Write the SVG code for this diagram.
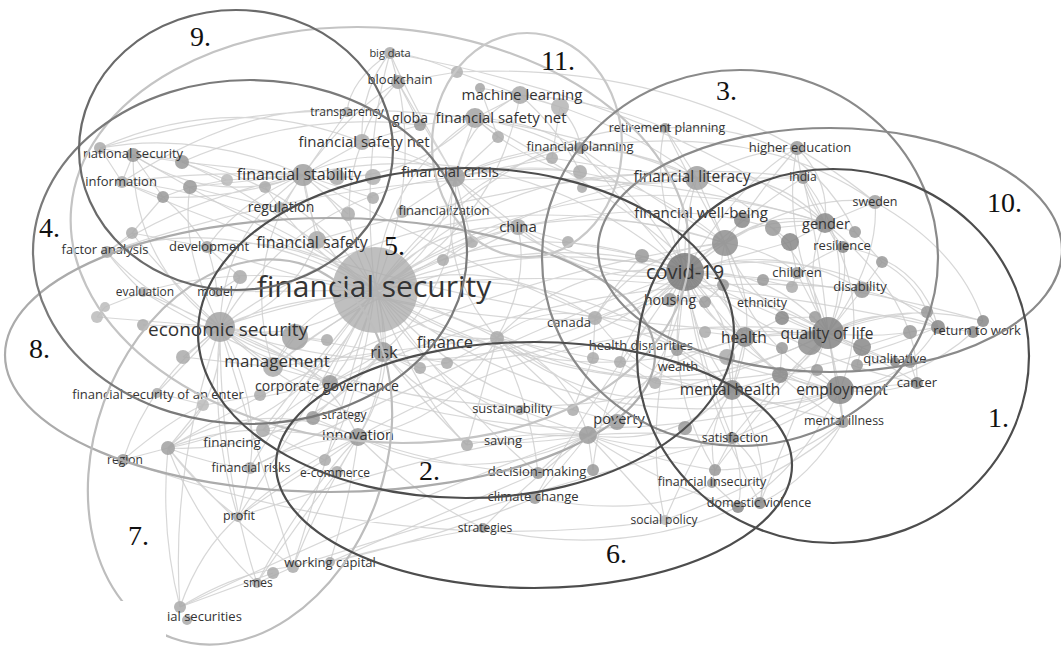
<svg xmlns="http://www.w3.org/2000/svg" width="1061" height="649" viewBox="0 0 1061 649">
<style>
.ln{fill:none;stroke:#cdcdcd;stroke-width:1.2;opacity:.8}
.lb{font-family:"Open Sans","DejaVu Sans",sans-serif;fill:#333;text-anchor:middle}
.num{font-family:"Liberation Serif","Times New Roman",serif;font-size:28px;fill:#111}
.el{fill:none;stroke-width:2.2}
circle{opacity:.85}
</style>
<rect width="1061" height="649" fill="#fff"/>
<g id="connectors">
<path class="ln" d="M375 290 Q526 204 685 272 M375 290 Q306 347 220 327 M375 290 Q612 198 828 333 M375 290 Q582 456 840 390 M375 290 Q538 179 725 243 M375 290 Q508 154 697 178 M375 290 Q310 250 303 175 M375 290 Q443 253 455 177 M375 290 Q382 179 475 118 M375 290 L383 352 M375 290 Q424 344 497 338 M375 290 Q578 251 732 390 M375 290 Q445 415 588 435 M375 290 Q403 368 358 437 M375 290 Q305 303 273 367 M375 290 Q430 222 518 227 M375 290 Q548 405 745 337 M375 290 Q288 162 133 155 M375 290 Q311 421 168 448 M375 290 Q496 228 520 95 M375 290 Q331 219 362 142 M375 290 Q492 249 595 318 M375 290 Q583 144 825 223 M375 290 Q647 449 938 327 M375 290 Q320 260 280 208 M375 290 Q290 230 207 247 M375 290 Q230 210 107 252 M375 290 Q250 260 143 292 M375 290 L217 292 M375 290 Q360 350 330 383 M375 290 Q335 360 313 418 M375 290 Q300 380 263 430 M375 290 Q290 400 250 468 M375 290 Q470 400 573 410 M375 290 Q330 450 293 567 M375 290 Q300 420 238 517 M375 290 Q360 160 390 53 M375 290 Q420 180 398 82 M375 290 Q240 190 122 182 M375 290 Q270 200 182 162 M375 290 Q520 120 665 128 M375 290 Q470 160 580 148 M375 290 Q470 420 538 473 M375 290 Q420 400 467 445 M375 290 Q360 400 325 460"/>
<path class="ln" d="M685 272 Q466 415 220 327 M685 272 Q771 266 828 333 M685 272 Q733 370 840 390 M685 272 L725 243 M685 272 Q667 222 697 178 M685 272 Q518 128 303 175 M685 272 Q546 282 455 177 M685 272 Q554 387 383 352 M685 272 Q574 258 497 338 M685 272 Q738 319 732 390 M685 272 Q677 377 588 435 M685 272 Q590 291 518 227 M685 272 Q699 319 745 337 M685 272 Q743 212 825 223 M685 272 Q651 317 595 318 M685 272 Q825 236 938 327 M685 272 Q618 142 475 118 M685 272 Q455 216 273 367 M685 272 Q740 250 797 273 M685 272 Q780 240 862 290 M685 272 L790 242 M685 272 L670 300 M685 272 Q700 360 732 438 M685 272 Q660 380 715 470 M685 272 Q700 400 760 503 M685 272 Q640 420 665 520 M685 272 Q600 380 593 470 M685 272 Q590 400 535 498 M685 272 L677 350 M685 272 Q630 320 620 362 M685 272 Q620 200 580 148 M685 272 Q650 180 665 128 M685 272 Q740 180 797 148 M685 272 Q750 210 803 178 M685 272 Q790 190 875 202 M685 272 Q840 280 983 321 M685 272 Q800 330 895 362 M685 272 Q800 360 917 383 M685 272 Q770 380 843 422 M685 272 L763 280"/>
<path class="ln" d="M220 327 Q223 230 303 175 M220 327 Q295 380 383 352 M220 327 Q361 263 497 338 M220 327 L273 367 M220 327 Q133 263 133 155 M220 327 Q224 400 168 448 M220 327 Q290 307 317 240 M220 327 Q316 347 358 437 M220 327 Q522 482 828 333 M220 327 Q377 473 588 435 M220 327 Q300 193 455 177 M220 327 Q451 159 725 243 M220 327 Q150 380 123 460 M220 327 Q150 300 107 252 M220 327 L143 292 M220 327 L157 393 M220 327 Q280 350 330 383 M220 327 L97 317 M220 327 Q160 270 132 233 M220 327 Q180 250 190 187 M220 327 Q260 400 250 468 M220 327 Q260 460 293 567 M220 327 Q220 470 257 583 M220 327 Q210 430 238 517 M220 327 Q170 470 180 607"/>
<path class="ln" d="M828 333 L840 390 M828 333 Q754 314 725 243 M828 333 Q801 222 697 178 M828 333 Q794 385 732 390 M828 333 L745 337 M828 333 Q799 278 825 223 M828 333 Q881 302 938 327 M828 333 Q682 324 588 435 M828 333 Q663 418 497 338 M828 333 Q715 267 595 318 M828 333 Q900 300 983 321 M828 333 L862 290 M828 333 Q850 290 843 247 M828 333 Q880 260 875 202 M828 333 Q880 360 917 383 M828 333 L895 362 M828 333 Q880 315 927 312 M828 333 L797 273 M828 333 Q780 230 797 148 M828 333 Q820 250 803 178 M828 333 Q790 430 760 503 M828 333 Q770 390 732 438 M828 333 L843 422 M828 333 Q760 410 715 470"/>
<path class="ln" d="M840 390 Q786 417 732 390 M840 390 Q745 345 725 243 M840 390 Q905 383 938 327 M840 390 Q874 302 825 223 M840 390 Q725 475 588 435 M840 390 Q779 387 745 337 M840 390 L732 438 M840 390 Q800 470 738 507 M840 390 L917 383 M840 390 Q920 380 973 332 M725 243 Q770 208 825 223 M725 243 Q765 314 732 390 M725 243 Q617 287 518 227 M725 243 Q606 142 455 177 M725 243 Q711 295 745 337 M725 243 Q641 248 595 318 M725 243 L697 178 M725 243 Q640 190 580 148 M725 243 Q680 160 665 128 M725 243 Q760 190 797 148 M725 243 Q770 250 797 273 M697 178 Q772 168 825 223 M697 178 Q576 117 455 177 M697 178 Q571 203 475 118 M697 178 Q661 293 732 390 M697 178 Q750 150 797 148 M697 178 L803 178 M697 178 Q640 150 580 148 M697 178 L582 188 M697 178 Q620 170 552 158 M697 178 L665 128"/>
<path class="ln" d="M303 175 Q213 207 133 155 M303 175 Q379 138 455 177 M303 175 Q403 189 475 118 M303 175 L317 240 M303 175 L362 142 M303 175 Q240 263 273 367 M303 175 Q387 243 383 352 M303 175 L280 208 M303 175 L182 162 M303 175 L190 187 M303 175 Q230 200 163 197 M303 175 Q210 170 122 182 M303 175 Q200 130 100 148 M303 175 Q240 200 207 247 M303 175 Q180 200 107 252 M303 175 L347 112 M303 175 Q350 110 398 82 M303 175 L348 214 M303 175 L373 198 M455 177 L475 118 M455 177 L518 227 M455 177 Q467 120 520 95 M455 177 Q463 282 383 352 M455 177 Q436 268 497 338 M455 177 Q410 150 362 142 M455 177 L402 212 M455 177 Q520 150 580 148 M455 177 L552 158 M455 177 L498 137 M455 177 L472 242 M455 177 Q420 120 398 82 M455 177 Q410 100 390 53 M455 177 Q520 165 580 172"/>
<path class="ln" d="M383 352 Q380 400 358 437 M383 352 L273 367 M383 352 Q464 444 588 435 M383 352 Q299 454 168 448 M383 352 L497 338 M383 352 L330 383 M383 352 L313 418 M383 352 Q430 410 467 445 M383 352 Q450 390 520 410 M383 352 L420 368 M383 352 L447 363 M497 338 Q566 363 588 435 M497 338 Q541 303 595 318 M497 338 Q452 422 358 437 M497 338 Q601 423 732 390 M497 338 Q530 280 518 227 M497 338 Q570 380 617 422 M497 338 Q530 400 538 473 M497 338 Q480 400 467 445 M497 338 L593 358 M497 338 L573 410 M732 390 Q671 448 588 435 M732 390 L745 337 M732 390 L732 438 M732 390 Q705 430 715 470 M732 390 Q770 450 760 503 M732 390 Q790 410 843 422 M732 390 Q645 388 595 318 M732 390 Q690 460 665 520 M732 390 L685 428 M732 390 L655 383 M732 390 L727 357 M732 390 L677 350"/>
<path class="ln" d="M588 435 L593 470 M588 435 Q560 450 538 473 M588 435 Q560 470 535 498 M588 435 Q530 430 467 445 M588 435 Q530 480 483 528 M588 435 Q630 480 665 520 M588 435 Q650 460 715 470 M588 435 Q473 493 358 437 M588 435 L617 422 M588 435 Q670 490 738 507 M588 435 Q660 430 732 438 M588 435 L520 410 M358 437 L313 418 M358 437 L325 460 M358 437 L337 472 M358 437 Q350 500 330 562 M358 437 Q300 500 257 583 M358 437 Q290 470 238 517 M358 437 Q300 440 250 468 M358 437 Q260 395 168 448 M358 437 L263 430 M358 437 Q450 470 538 473 M358 437 Q420 500 483 528 M358 437 Q320 500 293 567"/>
<path class="ln" d="M168 448 L123 460 M168 448 Q215 430 263 430 M168 448 Q210 465 250 468 M168 448 Q200 490 238 517 M168 448 Q200 530 257 583 M168 448 Q160 530 180 607 M168 448 Q230 520 293 567 M168 448 L203 405 M123 460 Q170 420 203 405 M180 607 Q240 570 293 567 M180 607 Q200 550 238 517 M180 607 L273 573 M257 583 L293 567 M330 562 Q430 540 535 498 M330 562 Q410 540 483 528 M330 562 Q450 510 538 473 M238 517 Q245 490 250 468 M238 517 Q290 480 325 460 M257 583 Q300 520 337 472 M263 430 Q300 450 325 460 M263 430 L313 418 M263 430 Q300 400 330 383"/>
<path class="ln" d="M520 95 L560 107 M520 95 L480 88 M520 95 L457 72 M520 95 L475 118 M560 107 Q580 130 580 148 M560 107 L552 158 M457 72 Q420 55 390 53 M457 72 L398 82 M398 82 L390 53 M398 82 L420 125 M398 82 Q370 110 362 142 M420 125 L475 118 M420 125 L362 142 M475 118 L498 137 M475 118 Q530 120 580 148 M390 53 Q360 90 362 142 M520 95 Q560 130 580 172 M520 95 Q600 100 665 128 M520 95 Q620 120 697 178 M480 88 L498 137 M390 53 Q350 80 347 112"/>
<path class="ln" d="M133 155 L100 148 M133 155 L182 162 M133 155 L122 182 M133 155 L163 197 M100 148 L122 182 M122 182 L163 197 M182 162 L227 180 M190 187 L227 180 M227 180 L303 175 M265 187 L303 175 M163 197 L190 187 M190 187 Q240 200 280 208 M163 197 Q190 220 207 247 M132 233 L107 252 M132 233 L207 247 M132 233 L163 197 M107 252 Q120 270 143 292 M207 247 Q215 270 217 292 M207 247 L240 277 M143 292 L105 307 M97 317 L105 307 M143 325 L220 327 M183 357 L220 327 M183 357 L273 367 M157 393 L205 405 M205 405 L260 395 M262 397 L330 383 M220 327 L295 337 M295 337 L273 367 M295 337 L327 340 M295 337 L383 352 M273 367 L330 383 M217 292 L240 277 M240 277 L220 327 M280 208 L265 187"/>
<path class="ln" d="M825 223 L773 228 M825 223 L790 242 M825 223 L875 202 M825 223 L843 247 M825 223 L855 232 M825 223 L803 178 M825 223 Q800 190 797 148 M855 232 L882 262 M882 262 L862 290 M882 262 Q915 280 927 312 M862 290 Q900 300 927 312 M927 312 L938 327 M938 327 L973 332 M973 332 L983 321 M938 327 Q880 340 828 333 M938 327 L910 332 M910 332 L862 347 M862 347 L828 333 M862 347 L857 365 M857 365 L895 362 M910 362 L895 362 M910 362 L917 383 M917 383 Q880 395 840 390 M840 390 L817 370 M817 370 L780 375 M780 375 L732 390 M780 375 L782 348 M782 348 L745 337 M782 318 L815 317 M782 318 L745 337 M763 280 L792 287 M792 287 L797 273 M723 285 L705 302 M705 302 L670 300 M705 332 L745 337 M727 357 L745 337 M727 357 L732 390 M797 273 Q820 255 843 247 M790 242 L773 228 M773 228 L742 220 M790 242 L797 273"/>
<path class="ln" d="M875 202 Q960 250 983 321 M843 247 Q920 260 938 327 M825 223 Q920 300 917 383 M803 178 Q860 250 828 333 M797 148 Q830 180 825 223 M828 333 L843 422 M843 422 L840 390 M732 438 L715 470 M732 438 Q745 475 738 507 M732 438 Q770 470 760 503 M715 470 L712 483 M712 483 L738 507 M843 422 Q810 480 760 503 M843 422 Q780 470 715 470 M518 227 L568 242 M518 227 L472 242 M518 227 Q480 250 443 260 M568 242 L642 256 M642 256 L685 272 M642 256 Q610 290 595 318 M595 318 L593 358 M593 358 L620 362 M620 362 L655 383 M655 383 L677 350 M573 410 L617 422 M573 410 L593 358 M420 368 L447 363 M447 363 L497 338 M472 242 L443 260 M443 260 L375 290"/>
<path class="ln" d="M100 148 Q400 60 697 178 M122 182 Q450 330 828 333 M107 252 Q500 120 825 223 M143 292 Q480 500 840 390 M168 448 Q450 280 725 243 M133 155 Q520 380 732 390 M220 327 Q500 230 938 327 M303 175 Q620 350 840 390 M273 367 Q520 180 697 178 M123 460 Q400 560 665 520 M358 437 Q600 300 828 333 M180 607 Q450 480 588 435 M390 53 Q650 100 825 223 M457 72 Q700 60 875 202 M475 118 Q700 240 745 337 M317 240 Q620 150 803 178 M330 383 Q600 260 862 290 M207 247 Q450 330 595 318 M250 468 Q520 330 685 272 M293 567 Q600 470 732 438 M238 517 Q500 430 588 435 M483 528 Q620 560 738 507 M535 498 Q650 520 712 483 M665 520 Q800 470 843 422 M580 148 Q760 120 875 202 M665 128 Q800 120 855 232 M518 227 Q640 200 742 220 M122 182 Q250 100 347 112 M100 148 Q230 90 362 142 M182 162 Q300 110 420 125"/>
</g>
<g id="nodes-unlabelled">
<g id="u1"><circle cx="163" cy="197" r="6" fill="#999"/></g>
<g id="u2"><circle cx="190" cy="187" r="7" fill="#999"/></g>
<g id="u3"><circle cx="227" cy="180" r="6" fill="#bbb"/></g>
<g id="u4"><circle cx="265" cy="187" r="6" fill="#aaa"/></g>
<g id="u5"><circle cx="348" cy="214" r="7" fill="#aaa"/></g>
<g id="u6"><circle cx="373" cy="198" r="6" fill="#aaa"/></g>
<g id="u7"><circle cx="498" cy="137" r="6" fill="#aaa"/></g>
<g id="u8"><circle cx="552" cy="158" r="6" fill="#aaa"/></g>
<g id="u9"><circle cx="580" cy="172" r="7" fill="#aaa"/></g>
<g id="u10"><circle cx="582" cy="188" r="5" fill="#aaa"/></g>
<g id="u11"><circle cx="472" cy="242" r="6" fill="#aaa"/></g>
<g id="u12"><circle cx="443" cy="260" r="6" fill="#aaa"/></g>
<g id="u13"><circle cx="568" cy="242" r="6" fill="#aaa"/></g>
<g id="u14"><circle cx="642" cy="256" r="7" fill="#999"/></g>
<g id="u15"><circle cx="420" cy="368" r="6" fill="#aaa"/></g>
<g id="u16"><circle cx="447" cy="363" r="6" fill="#aaa"/></g>
<g id="u17"><circle cx="593" cy="358" r="6" fill="#aaa"/></g>
<g id="u18"><circle cx="620" cy="362" r="6" fill="#aaa"/></g>
<g id="u19"><circle cx="655" cy="383" r="6" fill="#aaa"/></g>
<g id="u20"><circle cx="677" cy="350" r="6" fill="#999"/></g>
<g id="u21"><circle cx="573" cy="410" r="6" fill="#aaa"/></g>
<g id="u22"><circle cx="773" cy="228" r="8" fill="#999"/></g>
<g id="u23"><circle cx="790" cy="242" r="9" fill="#888"/></g>
<g id="u24"><circle cx="855" cy="232" r="6" fill="#999"/></g>
<g id="u25"><circle cx="882" cy="262" r="6" fill="#999"/></g>
<g id="u26"><circle cx="763" cy="280" r="6" fill="#999"/></g>
<g id="u27"><circle cx="792" cy="287" r="6" fill="#aaa"/></g>
<g id="u28"><circle cx="723" cy="285" r="6" fill="#999"/></g>
<g id="u29"><circle cx="705" cy="302" r="6" fill="#999"/></g>
<g id="u30"><circle cx="705" cy="332" r="6" fill="#aaa"/></g>
<g id="u31"><circle cx="782" cy="318" r="7" fill="#888"/></g>
<g id="u32"><circle cx="815" cy="317" r="6" fill="#999"/></g>
<g id="u33"><circle cx="782" cy="348" r="6" fill="#999"/></g>
<g id="u34"><circle cx="780" cy="375" r="8" fill="#888"/></g>
<g id="u35"><circle cx="817" cy="370" r="6" fill="#999"/></g>
<g id="u36"><circle cx="857" cy="365" r="6" fill="#999"/></g>
<g id="u37"><circle cx="862" cy="347" r="9" fill="#888"/></g>
<g id="u38"><circle cx="910" cy="332" r="7" fill="#999"/></g>
<g id="u39"><circle cx="927" cy="312" r="6" fill="#999"/></g>
<g id="u40"><circle cx="910" cy="362" r="6" fill="#999"/></g>
<g id="u41"><circle cx="727" cy="357" r="8" fill="#aaa"/></g>
<g id="u42"><circle cx="183" cy="357" r="7" fill="#aaa"/></g>
<g id="u43"><circle cx="260" cy="395" r="6" fill="#aaa"/></g>
<g id="u44"><circle cx="203" cy="405" r="6" fill="#bbb"/></g>
<g id="u45"><circle cx="132" cy="233" r="6" fill="#aaa"/></g>
<g id="u46"><circle cx="105" cy="307" r="5" fill="#bbb"/></g>
<g id="u47"><circle cx="97" cy="317" r="6" fill="#bbb"/></g>
<g id="u48"><circle cx="143" cy="325" r="6" fill="#aaa"/></g>
<g id="u49"><circle cx="240" cy="277" r="7" fill="#aaa"/></g>
<g id="u50"><circle cx="157" cy="393" r="5" fill="#aaa"/></g>
<g id="u51"><circle cx="327" cy="340" r="6" fill="#aaa"/></g>
<g id="u52"><circle cx="685" cy="428" r="7" fill="#999"/></g>
<g id="u53"><circle cx="263" cy="430" r="7" fill="#aaa"/></g>
<g id="u54"><circle cx="520" cy="410" r="5" fill="#aaa"/></g>
</g>
<g id="n-financial-security"><circle cx="375" cy="290" r="43" fill="#aaa" style="opacity:.75"/><text class="lb" x="374" y="297" font-size="30">financial security</text></g>
<g id="n-big-data"><circle cx="390" cy="53" r="6" fill="#a9a9a9"/><text class="lb" x="390" y="57" font-size="11">big data</text></g>
<g id="n-blockchain"><circle cx="398" cy="82" r="7" fill="#a0a0a0"/><text class="lb" x="400" y="84" font-size="13">blockchain</text></g>
<g id="n-machine-learning"><circle cx="457" cy="72" r="6" fill="#b0b0b0"/><circle cx="480" cy="88" r="5" fill="#a5a5a5"/><circle cx="520" cy="95" r="9" fill="#a9a9a9"/><circle cx="560" cy="107" r="9" fill="#b5b5b5"/><text class="lb" x="522" y="100" font-size="15">machine learning</text></g>
<g id="n-transparency"><circle cx="347" cy="112" r="5" fill="#aaa"/><text class="lb" x="347" y="116" font-size="12">transparency</text></g>
<g id="n-globa"><circle cx="420" cy="125" r="6" fill="#999"/><text class="lb" x="410" y="123" font-size="14">globa</text></g>
<g id="n-financial-safety-net-1"><circle cx="475" cy="118" r="10" fill="#a3a3a3"/><text class="lb" x="501" y="123" font-size="15">financial safety net</text></g>
<g id="n-financial-safety-net-2"><circle cx="362" cy="142" r="8" fill="#aaa"/><text class="lb" x="364" y="147" font-size="15">financial safety net</text></g>
<g id="n-financial-stability"><circle cx="303" cy="175" r="11" fill="#a0a0a0"/><circle cx="337" cy="177" r="8" fill="#aaa"/><circle cx="373" cy="177" r="8" fill="#b0b0b0"/><text class="lb" x="299" y="180" font-size="16">financial stability</text></g>
<g id="n-regulation"><circle cx="280" cy="208" r="6" fill="#a8a8a8"/><text class="lb" x="281" y="212" font-size="14">regulation</text></g>
<g id="n-financial-safety"><circle cx="317" cy="240" r="9" fill="#aaa"/><text class="lb" x="312" y="248" font-size="16">financial safety</text></g>
<g id="n-financial-crisis"><circle cx="455" cy="177" r="10" fill="#a0a0a0"/><text class="lb" x="450" y="177" font-size="15">financial crisis</text></g>
<g id="n-financialization"><circle cx="402" cy="212" r="6" fill="#b0b0b0"/><text class="lb" x="444" y="215" font-size="13">financialization</text></g>
<g id="n-china"><circle cx="518" cy="227" r="8" fill="#a8a8a8"/><text class="lb" x="518" y="232" font-size="15">china</text></g>
<g id="n-retirement-planning"><circle cx="665" cy="128" r="5" fill="#999"/><text class="lb" x="667" y="132" font-size="12.5">retirement planning</text></g>
<g id="n-financial-planning"><circle cx="580" cy="148" r="6" fill="#999"/><text class="lb" x="580" y="151" font-size="13">financial planning</text></g>
<g id="n-higher-education"><circle cx="797" cy="148" r="7" fill="#999"/><text class="lb" x="800" y="152" font-size="13">higher education</text></g>
<g id="n-financial-literacy"><circle cx="697" cy="178" r="12" fill="#a0a0a0"/><text class="lb" x="692" y="182" font-size="15.5">financial literacy</text></g>
<g id="n-india"><circle cx="803" cy="178" r="6" fill="#999"/><text class="lb" x="803" y="181" font-size="12">india</text></g>
<g id="n-sweden"><circle cx="875" cy="202" r="7" fill="#a0a0a0"/><text class="lb" x="875" y="206" font-size="12.5">sweden</text></g>
<g id="n-financial-well-being"><circle cx="742" cy="220" r="8" fill="#8a8a8a"/><circle cx="725" cy="243" r="13" fill="#8f8f8f"/><text class="lb" x="701" y="218" font-size="15">financial well-being</text></g>
<g id="n-gender"><circle cx="825" cy="223" r="10" fill="#8a8a8a"/><text class="lb" x="826" y="229" font-size="14.5">gender</text></g>
<g id="n-resilience"><circle cx="843" cy="247" r="6" fill="#888"/><text class="lb" x="842" y="250" font-size="13">resilience</text></g>
<g id="n-covid-19"><circle cx="685" cy="272" r="19" fill="#7a7a7a"/><text class="lb" x="685" y="279" font-size="20">covid-19</text></g>
<g id="n-children"><circle cx="797" cy="273" r="6" fill="#999"/><text class="lb" x="797" y="277" font-size="13">children</text></g>
<g id="n-disability"><circle cx="862" cy="290" r="8" fill="#999"/><text class="lb" x="860" y="291" font-size="13">disability</text></g>
<g id="n-housing"><circle cx="670" cy="300" r="7" fill="#999"/><text class="lb" x="670" y="305" font-size="14">housing</text></g>
<g id="n-ethnicity"><text class="lb" x="762" y="307" font-size="12.5">ethnicity</text></g>
<g id="n-canada"><circle cx="595" cy="318" r="7" fill="#aaa"/><text class="lb" x="569" y="327" font-size="13">canada</text></g>
<g id="n-return-to-work"><circle cx="938" cy="327" r="7" fill="#888"/><circle cx="973" cy="332" r="6" fill="#888"/><circle cx="983" cy="321" r="6" fill="#888"/><text class="lb" x="977" y="335" font-size="13">return to work</text></g>
<g id="n-health"><circle cx="745" cy="337" r="10" fill="#8c8c8c"/><text class="lb" x="744" y="343" font-size="15.5">health</text></g>
<g id="n-quality-of-life"><circle cx="810" cy="343" r="12" fill="#8f8f8f"/><circle cx="828" cy="333" r="16" fill="#858585"/><text class="lb" x="827" y="339" font-size="15.5">quality of life</text></g>
<g id="n-finance"><circle cx="497" cy="338" r="7" fill="#aaa"/><text class="lb" x="445" y="348" font-size="16.5">finance</text></g>
<g id="n-risk"><circle cx="383" cy="352" r="10" fill="#9a9a9a"/><text class="lb" x="384" y="358" font-size="16.5">risk</text></g>
<g id="n-health-disparities"><text class="lb" x="641" y="350" font-size="13">health disparities</text></g>
<g id="n-wealth"><text class="lb" x="678" y="371" font-size="13">wealth</text></g>
<g id="n-qualitative"><circle cx="895" cy="362" r="5" fill="#888"/><text class="lb" x="895" y="363" font-size="13">qualitative</text></g>
<g id="n-cancer"><circle cx="917" cy="383" r="6" fill="#888"/><text class="lb" x="917" y="387" font-size="13">cancer</text></g>
<g id="n-mental-health"><circle cx="732" cy="390" r="10" fill="#888"/><text class="lb" x="730" y="395" font-size="15.5">mental health</text></g>
<g id="n-employment"><circle cx="840" cy="390" r="14" fill="#888"/><text class="lb" x="842" y="395" font-size="15.5">employment</text></g>
<g id="n-mental-illness"><circle cx="843" cy="422" r="6" fill="#999"/><text class="lb" x="844" y="425" font-size="12.5">mental illness</text></g>
<g id="n-satisfaction"><circle cx="732" cy="438" r="6" fill="#888"/><text class="lb" x="735" y="442" font-size="12.5">satisfaction</text></g>
<g id="n-financial-insecurity"><circle cx="715" cy="470" r="6" fill="#999"/><circle cx="712" cy="483" r="5" fill="#999"/><text class="lb" x="712" y="486" font-size="12.5">financial insecurity</text></g>
<g id="n-domestic-violence"><circle cx="738" cy="507" r="6" fill="#888"/><circle cx="760" cy="503" r="6" fill="#888"/><text class="lb" x="759" y="507" font-size="12.5">domestic violence</text></g>
<g id="n-social-policy"><circle cx="665" cy="520" r="5" fill="#bbb"/><text class="lb" x="664" y="524" font-size="12">social policy</text></g>
<g id="n-poverty"><circle cx="617" cy="422" r="8" fill="#999"/><circle cx="588" cy="435" r="9" fill="#9a9a9a"/><text class="lb" x="619" y="424" font-size="14.5">poverty</text></g>
<g id="n-sustainability"><text class="lb" x="512" y="413" font-size="13">sustainability</text></g>
<g id="n-saving"><circle cx="467" cy="445" r="6" fill="#aaa"/><text class="lb" x="503" y="445" font-size="13">saving</text></g>
<g id="n-decision-making"><circle cx="538" cy="473" r="6" fill="#999"/><circle cx="593" cy="470" r="6" fill="#999"/><text class="lb" x="537" y="476" font-size="13">decision-making</text></g>
<g id="n-climate-change"><circle cx="535" cy="498" r="6" fill="#999"/><text class="lb" x="533" y="501" font-size="13">climate change</text></g>
<g id="n-strategies"><circle cx="483" cy="528" r="5" fill="#999"/><text class="lb" x="485" y="532" font-size="12">strategies</text></g>
<g id="n-working-capital"><circle cx="273" cy="573" r="6" fill="#aaa"/><circle cx="293" cy="567" r="6" fill="#aaa"/><circle cx="330" cy="562" r="5" fill="#aaa"/><text class="lb" x="330" y="567" font-size="13">working capital</text></g>
<g id="n-smes"><circle cx="257" cy="583" r="5" fill="#aaa"/><text class="lb" x="258" y="587" font-size="12">smes</text></g>
<g id="n-financial-securities"><circle cx="180" cy="607" r="6" fill="#aaa"/><circle cx="187" cy="620" r="5" fill="#aaa"/><text class="lb" x="167" y="621" font-size="13" style="text-anchor:start">ial securities</text></g>
<g id="n-profit"><circle cx="238" cy="517" r="5" fill="#aaa"/><text class="lb" x="239" y="520" font-size="12.5">profit</text></g>
<g id="n-region"><circle cx="123" cy="460" r="6" fill="#999"/><text class="lb" x="125" y="464" font-size="12">region</text></g>
<g id="n-financing"><circle cx="168" cy="448" r="7" fill="#a0a0a0"/><text class="lb" x="232" y="447" font-size="13.5">financing</text></g>
<g id="n-financial-risks"><circle cx="250" cy="468" r="6" fill="#aaa"/><text class="lb" x="251" y="472" font-size="12.5">financial risks</text></g>
<g id="n-e-commerce"><circle cx="325" cy="460" r="6" fill="#aaa"/><circle cx="337" cy="472" r="6" fill="#aaa"/><text class="lb" x="335" y="477" font-size="12">e-commerce</text></g>
<g id="n-innovation"><circle cx="358" cy="437" r="9" fill="#999"/><text class="lb" x="358" y="440" font-size="14.5">innovation</text></g>
<g id="n-strategy"><circle cx="313" cy="418" r="7" fill="#999"/><text class="lb" x="344" y="419" font-size="12">strategy</text></g>
<g id="n-corporate-governance"><circle cx="330" cy="383" r="8" fill="#999"/><text class="lb" x="327" y="391" font-size="14">corporate governance</text></g>
<g id="n-management"><circle cx="273" cy="367" r="10" fill="#aaa"/><text class="lb" x="277" y="367" font-size="17">management</text></g>
<g id="n-economic-security"><circle cx="220" cy="327" r="15" fill="#a3a3a3"/><circle cx="295" cy="337" r="13" fill="#a3a3a3"/><text class="lb" x="228" y="336" font-size="19">economic security</text></g>
<g id="n-financial-security-enter"><text class="lb" x="158" y="399" font-size="13">financial security of an enter</text></g>
<g id="n-evaluation"><circle cx="143" cy="292" r="5" fill="#aaa"/><text class="lb" x="145" y="296" font-size="12">evaluation</text></g>
<g id="n-model"><circle cx="217" cy="292" r="5" fill="#aaa"/><text class="lb" x="215" y="296" font-size="12">model</text></g>
<g id="n-factor-analysis"><circle cx="107" cy="252" r="6" fill="#aaa"/><text class="lb" x="105" y="254" font-size="13">factor analysis</text></g>
<g id="n-development"><circle cx="207" cy="247" r="6" fill="#a0a0a0"/><text class="lb" x="209" y="251" font-size="13">development</text></g>
<g id="n-national-security"><circle cx="100" cy="148" r="6" fill="#aaa"/><circle cx="133" cy="155" r="7" fill="#999"/><circle cx="182" cy="162" r="7" fill="#999"/><text class="lb" x="133" y="158" font-size="13">national security</text></g>
<g id="n-information"><circle cx="122" cy="182" r="6" fill="#aaa"/><text class="lb" x="121" y="186" font-size="13">information</text></g>
<g id="clusters">
<ellipse id="c5" class="el" cx="380" cy="235" rx="310" ry="207" transform="rotate(5 380 235)" stroke="#c4c4c4"/>
<ellipse id="c8" class="el" cx="330" cy="355" rx="325" ry="137" stroke="#ababab"/>
<ellipse id="c7" class="el" cx="240" cy="452" rx="145" ry="198" transform="rotate(20 240 452)" stroke="#bdbdbd"/>
<ellipse id="c11" class="el" cx="527" cy="145" rx="95" ry="112" stroke="#c8c8c8"/>
<ellipse id="c4" class="el" cx="250" cy="252" rx="217" ry="172" stroke="#7a7a7a"/>
<ellipse id="c10" class="el" cx="830" cy="250" rx="232" ry="122" stroke="#8a8a8a"/>
<ellipse id="c3" class="el" cx="740" cy="258" rx="198" ry="188" stroke="#8a8a8a"/>
<ellipse id="c9" class="el" cx="236" cy="150" rx="157" ry="140" stroke="#6a6a6a"/>
<ellipse id="c2" class="el" cx="466" cy="333" rx="268" ry="165" stroke="#4d4d4d"/>
<ellipse id="c6" class="el" cx="534" cy="465" rx="258" ry="123" stroke="#4d4d4d"/>
<ellipse id="c1" class="el" cx="833" cy="356" rx="196" ry="187" stroke="#4d4d4d"/>
</g>
<rect x="0" y="601" width="166" height="48" fill="#fff"/>
<g id="cluster-numbers">
<text class="num" x="190" y="46">9.</text>
<text class="num" x="541" y="70">11.</text>
<text class="num" x="716" y="100">3.</text>
<text class="num" x="987" y="212">10.</text>
<text class="num" x="39" y="237">4.</text>
<text class="num" x="384" y="255">5.</text>
<text class="num" x="29" y="358">8.</text>
<text class="num" x="988" y="427">1.</text>
<text class="num" x="419" y="480">2.</text>
<text class="num" x="606" y="563">6.</text>
<text class="num" x="128" y="545">7.</text>
</g>
</svg>
